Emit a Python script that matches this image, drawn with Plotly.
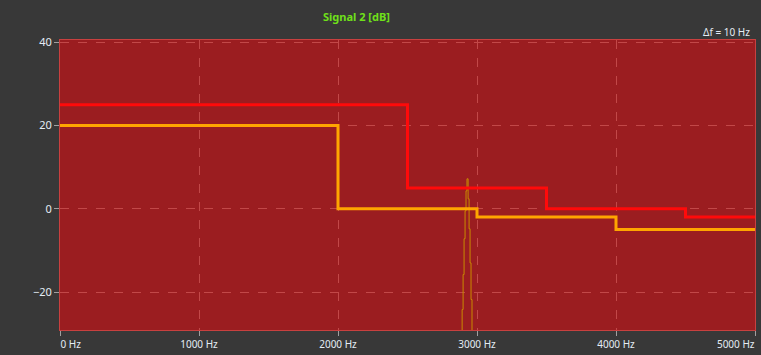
import plotly.graph_objects as go

# Data
red_freq = [0, 2500, 3500, 4500, 5000]
red_db = [25, 5, 0, -2, -2]
orange_freq = [0, 2000, 3000, 4000, 5000]
orange_db = [20, 0, -2, -5, -5]
spec_freq = [2880, 2893, 2900, 2907, 2914, 2921, 2928, 2936, 2943, 2950, 2957, 2964, 2980]
spec_db = [-40, -24.2, -15.8, -7.2, -0.5, 4.3, 7.2, 2.4, -4.8, -13, -21.8, -40, -40]
x_ticks = [0, 1000, 2000, 3000, 4000, 5000]
x_labels = ["0 Hz", "1000 Hz", "2000 Hz", "3000 Hz", "4000 Hz", "5000 Hz"]
y_ticks = [-20, 0, 20, 40]

x_mid_text = [""] + x_labels[1:-1] + [""]

fig = go.Figure()
fig.add_trace(go.Scatter(x=spec_freq, y=spec_db, mode="lines", line_shape="hv",
                         line=dict(color="#c98a00", width=1), hoverinfo="skip"))
fig.add_trace(go.Scatter(x=orange_freq, y=orange_db, mode="lines", line_shape="hv",
                         line=dict(color="#ffa500", width=3)))
fig.add_trace(go.Scatter(x=red_freq, y=red_db, mode="lines", line_shape="hv",
                         line=dict(color="#ff0a0a", width=3)))
# invisible helper traces so the edge-label axes are drawn
fig.add_trace(go.Scatter(x=[x_ticks[-1]], y=[y_ticks[1]], xaxis="x2", mode="markers",
                         marker=dict(opacity=0), hoverinfo="skip"))
fig.add_trace(go.Scatter(x=[x_ticks[0]], y=[y_ticks[1]], xaxis="x3", mode="markers",
                         marker=dict(opacity=0), hoverinfo="skip"))

tickfont = dict(family="Noto Sans", size=10, color="#e4ecf4")
edge_axis = dict(overlaying="x", anchor="y", side="bottom", range=[0, 5000],
                 ticks="outside", ticklen=5, tickcolor="rgba(0,0,0,0)",
                 ticklabelstandoff=5,
                 showgrid=False, zeroline=False, showline=False,
                 automargin=False, ticklabeloverflow="allow", tickfont=tickfont)
fig.update_layout(
    width=761, height=355,
    margin=dict(l=60, r=6, t=40, b=25),
    paper_bgcolor="#383838",
    plot_bgcolor="#9b1d20",
    showlegend=False,
    font=dict(family="Noto Sans", size=10, color="#e4ecf4"),
    xaxis=dict(range=[0, 5000], tickvals=x_ticks, ticktext=x_mid_text,
               automargin=False,
               showgrid=True, gridcolor="#c24848", griddash="dash", gridwidth=1,
               zeroline=False, showline=True, linecolor="#c8403f", linewidth=1, mirror=True,
               ticks="outside", ticklen=5, tickcolor="#a0a0a0", tickfont=tickfont),
    xaxis2=dict(edge_axis, tickvals=[x_ticks[-1]], ticktext=[x_labels[-1]],
                ticklabelposition="outside left"),
    xaxis3=dict(edge_axis, tickvals=[x_ticks[0]], ticktext=[x_labels[0]],
                ticklabelposition="outside right"),
    yaxis=dict(range=[-29.12, 40.55], tickvals=y_ticks, automargin=False,
               showgrid=True, gridcolor="#c24848", griddash="dash", gridwidth=1,
               zeroline=False, showline=True, linecolor="#c8403f", linewidth=1, mirror=True,
               ticks="outside", ticklen=5, tickcolor="#a0a0a0",
               tickfont=dict(family="Noto Sans", size=11, color="#e4ecf4")),
    annotations=[
        dict(text="<b>Signal 2 [dB]</b>", x=0.427, y=1.08, xref="paper", yref="paper",
             xanchor="center", yanchor="middle", showarrow=False,
             font=dict(family="Noto Sans", size=11, color="#6fe019")),
        dict(text="Δf = 10 Hz", x=0.995, y=1.027, xref="paper", yref="paper",
             xanchor="right", yanchor="middle", showarrow=False,
             font=dict(family="Noto Sans", size=10, color="#e4ecf4")),
    ],
)

fig.write_html("out.html")
